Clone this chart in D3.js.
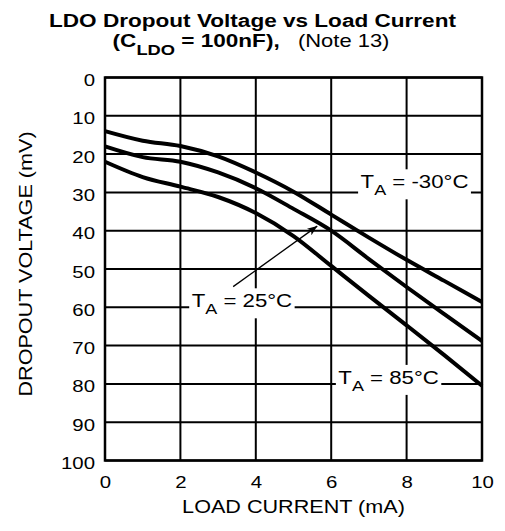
<!DOCTYPE html>
<html>
<head>
<meta charset="utf-8">
<script src="https://cdn.jsdelivr.net/npm/d3@7"></script>
<style>
  html, body { margin: 0; padding: 0; background: #fff; }
  svg { display: block; font-family: "Liberation Sans", Arial, Helvetica, sans-serif; }
</style>
</head>
<body>
<svg id="chart" width="505" height="531"></svg>
<script>
// ---- data ----
const loadCurrent = [0, 1, 2, 3, 4, 5, 6, 7, 8, 9, 10];           // mA
const dropoutMinus30 = [14, 16.5, 17.9, 20.6, 24.8, 29.8, 35.8, 41.8, 47.6, 53.1, 58.6];
const dropout25      = [18, 20.8, 22.0, 24.8, 28.9, 34.3, 40.0, 47.4, 54.7, 61.8, 68.8];
const dropout85      = [22, 26.0, 28.5, 31.2, 35.4, 41.4, 49.2, 57.0, 64.7, 72.5, 80.5];
const xTicks = [0, 2, 4, 6, 8, 10];
const yTicks = [0, 10, 20, 30, 40, 50, 60, 70, 80, 90, 100];
const seriesLabels = ["-30", "25", "85"];

// ---- layout ----
const svg = d3.select("#chart");
const pL = 105, pR = 482, pT = 77.5, pB = 460.5;
const x = d3.scaleLinear().domain([0, 10]).range([pL, pR]);
const y = d3.scaleLinear().domain([0, 100]).range([pT, pB]);
const SX = 1.2;   // horizontal stretch of the original lettering

// title
const tg1 = svg.append("g").attr("transform", `translate(252.5,26.7) scale(1.22,1)`);
tg1.append("text").attr("text-anchor", "middle").attr("font-size", 18.5).attr("font-weight", "bold")
  .text("LDO Dropout Voltage vs Load Current");
const tg2 = svg.append("g").attr("transform", `translate(251,46.7) scale(1.22,1)`);
const t2 = tg2.append("text").attr("text-anchor", "middle").attr("font-size", 18.5).attr("font-weight", "bold");
t2.append("tspan").text("(C");
t2.append("tspan").attr("font-size", 15).attr("dy", 8).text("LDO");
t2.append("tspan").attr("dy", -8).text(" = 100nF),");
t2.append("tspan").attr("font-weight", "normal").attr("font-size", 18).text("\u00a0\u00a0 (Note 13)");

// grid
const grid = svg.append("g");
grid.selectAll("line.v").data(xTicks).join("line").attr("class", "v")
  .attr("x1", d => x(d)).attr("x2", d => x(d)).attr("y1", pT).attr("y2", pB)
  .attr("stroke", "#000").attr("stroke-width", 2);
grid.selectAll("line.h").data(yTicks).join("line").attr("class", "h")
  .attr("y1", d => y(d)).attr("y2", d => y(d)).attr("x1", pL).attr("x2", pR)
  .attr("stroke", "#000").attr("stroke-width", 2);

// axes (labels only, frame drawn separately)
const xAxis = svg.append("g").attr("transform", `translate(0,${pB})`)
  .call(d3.axisBottom(x).tickValues(xTicks).tickSize(0).tickPadding(0).tickFormat(d3.format("d")));
xAxis.select(".domain").remove();
xAxis.selectAll("text").attr("font-size", 17).attr("font-family", "inherit").attr("fill", "#000")
  .attr("y", 28).attr("dy", 0).attr("transform", `scale(${SX},1)`);

const yAxis = svg.append("g").attr("transform", `translate(95,0)`)
  .call(d3.axisLeft(y).tickValues(yTicks).tickSize(0).tickPadding(0).tickFormat(d3.format("d")));
yAxis.select(".domain").remove();
yAxis.selectAll("text").attr("font-size", 17).attr("font-family", "inherit").attr("fill", "#000")
  .attr("x", 0).attr("y", 8).attr("dy", 0).attr("transform", `scale(${SX},1)`);

// frame
svg.append("rect").attr("x", pL).attr("y", pT).attr("width", pR - pL).attr("height", pB - pT)
  .attr("fill", "none").attr("stroke", "#000").attr("stroke-width", 2.5);

// axis titles
svg.append("g").attr("transform", `translate(${(pL + pR) / 2},513) scale(${SX},1)`)
  .append("text").attr("text-anchor", "middle").attr("font-size", 18).text("LOAD CURRENT (mA)");
svg.append("g").attr("transform", `translate(31.5,264) rotate(-90) scale(${SX},1)`)
  .append("text").attr("text-anchor", "middle").attr("font-size", 18).text("DROPOUT VOLTAGE (mV)");

// series labels with white boxes
function seriesLabel(tx, baseline, temp) {
  const g = svg.append("g");
  const inner = g.append("g").attr("transform", `translate(${x(tx)},${baseline}) scale(${SX},1)`);
  const t = inner.append("text").attr("font-size", 18.5);
  t.append("tspan").text("T");
  t.append("tspan").attr("font-size", 15).attr("dy", 7).text("A");
  t.append("tspan").attr("dy", -7).text(" = " + temp + "\u00b0C");
  const bb = t.node().getBBox();
  const w = bb.width * SX;
  g.insert("rect", "g").attr("x", x(tx) - 2.5).attr("y", baseline - 19)
    .attr("width", w + 5).attr("height", 30).attr("fill", "#fff");
}
seriesLabel(6.78, 188.3, seriesLabels[0]);
seriesLabel(2.30, y(60), seriesLabels[1]);
seriesLabel(6.19, y(80), seriesLabels[2]);

// curves
const line = d3.line().x((d, i) => x(loadCurrent[i])).y(d => y(d)).curve(d3.curveMonotoneX);
svg.selectAll("path.series").data([dropoutMinus30, dropout25, dropout85]).join("path")
  .attr("class", "series")
  .attr("d", line).attr("fill", "none").attr("stroke", "#000").attr("stroke-width", 4);

// arrow from 25°C label to curve
svg.append("defs").append("marker").attr("id", "ah").attr("viewBox", "0 0 10 10")
  .attr("refX", 10).attr("refY", 5).attr("markerWidth", 10).attr("markerHeight", 10)
  .attr("markerUnits", "userSpaceOnUse").attr("orient", "auto")
  .append("path").attr("d", "M0,1 L10,5 L0,9 L2.5,5 Z").attr("fill", "#000");
svg.append("line").attr("x1", x(3.40)).attr("y1", y(54.6)).attr("x2", x(5.63)).attr("y2", y(38.8))
  .attr("stroke", "#000").attr("stroke-width", 1.3).attr("marker-end", "url(#ah)");
</script>
</body>
</html>
